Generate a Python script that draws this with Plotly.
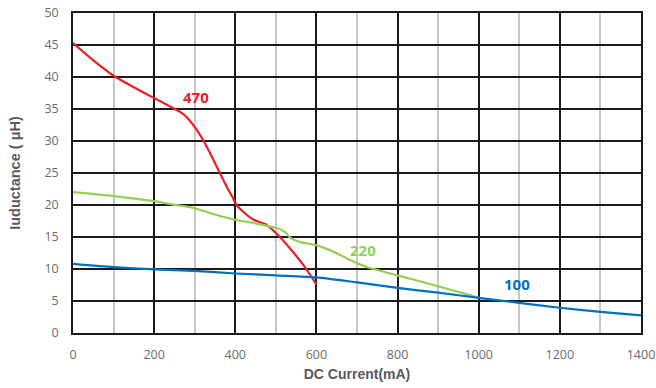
import plotly.graph_objects as go

# Data
red_x = [0, 50, 100, 150, 200, 248, 265, 282, 300, 322, 345, 362, 380, 395, 400, 420, 445, 477, 502, 535, 568, 600]
red_y = [45.3, 42.6, 40.2, 38.4, 36.7, 35.1, 34.5, 33.6, 32.2, 30.0, 27.2, 25.0, 22.7, 21.0, 20.3, 18.9, 17.7, 16.9, 15.5, 13.2, 10.6, 7.6]

green_x = [0, 100, 200, 248, 300, 346, 400, 445, 502, 522, 535, 560, 600, 642, 683, 724, 800, 889, 1008]
green_y = [22.0, 21.4, 20.6, 20.05, 19.5, 18.6, 17.7, 17.2, 16.4, 15.8, 14.9, 14.2, 13.7, 12.7, 11.4, 10.3, 9.0, 7.5, 5.4]

blue_x = [0, 100, 200, 300, 400, 500, 600, 700, 800, 900, 1000, 1100, 1200, 1300, 1400]
blue_y = [10.8, 10.3, 9.95, 9.7, 9.3, 9.0, 8.7, 7.9, 7.05, 6.3, 5.5, 4.7, 3.95, 3.3, 2.75]

series_names = ["470", "220", "100"]
series_colors = ["#ee1c25", "#92d050", "#0070c0"]
label_x = [302, 716, 1094]
label_y = [36.9, 12.9, 7.6]

fig = go.Figure()
for xs, ys, name, col in zip([red_x, green_x, blue_x], [red_y, green_y, blue_y], series_names, series_colors):
    fig.add_trace(go.Scatter(x=xs, y=ys, mode="lines", name=name,
                             line=dict(color=col, width=2.2, shape="spline", smoothing=0.6)))

for name, col, lx, ly in zip(series_names, series_colors, label_x, label_y):
    fig.add_annotation(x=lx, y=ly, text="<b>%s</b>" % name, showarrow=False,
                       font=dict(family="Open Sans", size=15, color=col))

fig.update_layout(
    width=656, height=388,
    margin=dict(l=73, r=15, t=13, b=55),
    plot_bgcolor="white", paper_bgcolor="white",
    showlegend=False,
    font=dict(family="Open Sans", size=12, color="#595959"),
)
fig.update_xaxes(
    range=[0, 1400], dtick=200, tick0=0, automargin=False,
    showgrid=True, gridcolor="#1a1a1a", gridwidth=1.5,
    minor=dict(dtick=100, tick0=0, showgrid=True, gridcolor="#c8c8c8", gridwidth=1.5),
    showline=True, linecolor="#1a1a1a", linewidth=1.5, mirror=True,
    zeroline=False, ticks="", ticklabelstandoff=9,
    tickfont=dict(family="Open Sans", size=12.5, color="#6b6b6b"),
    title=dict(text="<b>DC Current(mA)</b>", standoff=7,
               font=dict(family="Liberation Sans", size=14, color="#595959")),
)
fig.update_yaxes(
    range=[0, 50], dtick=5, tick0=0, automargin=False,
    showgrid=True, gridcolor="#1a1a1a", gridwidth=1.5,
    showline=True, linecolor="#1a1a1a", linewidth=1.5, mirror=True,
    zeroline=False, ticks="", ticklabelstandoff=10,
    tickfont=dict(family="Open Sans", size=12.5, color="#6b6b6b"),
    title=dict(text="<b>Iuductance ( μH)</b>", standoff=20,
               font=dict(family="Liberation Sans", size=14.5, color="#595959")),
)

fig.write_html("out.html")
